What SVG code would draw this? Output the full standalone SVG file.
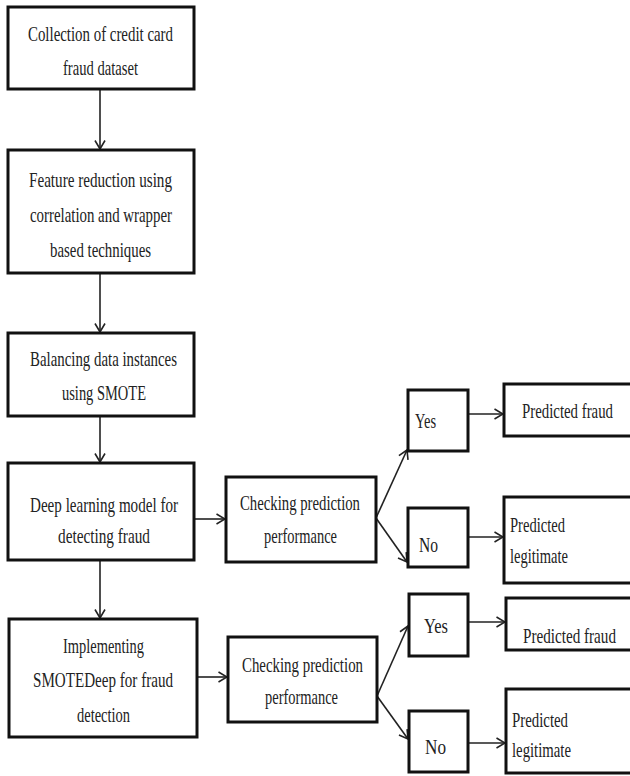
<svg xmlns="http://www.w3.org/2000/svg" width="630" height="776" viewBox="0 0 630 776">
<style>
.box{fill:#fff;stroke:#111;stroke-width:3}
.t{font-family:"Liberation Serif","Times New Roman",serif;font-size:21px;fill:#222}
.c{fill:none;stroke:#222;stroke-width:1.6}
</style>
<defs>
<marker id="ah" viewBox="0 0 10 12" refX="9.5" refY="6" markerWidth="10" markerHeight="12" markerUnits="userSpaceOnUse" orient="auto">
<polyline points="1,1 9.5,6 1,11" fill="none" stroke="#222" stroke-width="1.6"/>
</marker>
</defs>
<rect width="630" height="776" fill="#fff"/>
<g id="connectors">
<line class="c" x1="100" y1="89" x2="100" y2="149" marker-end="url(#ah)"/>
<line class="c" x1="100" y1="273" x2="100" y2="332" marker-end="url(#ah)"/>
<line class="c" x1="100" y1="416" x2="100" y2="462" marker-end="url(#ah)"/>
<line class="c" x1="100" y1="560" x2="100" y2="618" marker-end="url(#ah)"/>
<line class="c" x1="194" y1="519" x2="225" y2="519" marker-end="url(#ah)"/>
<line class="c" x1="197" y1="677" x2="227" y2="677" marker-end="url(#ah)"/>
<line class="c" x1="376" y1="518" x2="407" y2="450" marker-end="url(#ah)"/>
<line class="c" x1="376" y1="518" x2="407" y2="562" marker-end="url(#ah)"/>
<line class="c" x1="377" y1="696" x2="408" y2="626" marker-end="url(#ah)"/>
<line class="c" x1="377" y1="696" x2="408" y2="739" marker-end="url(#ah)"/>
<line class="c" x1="468" y1="414" x2="503" y2="414" marker-end="url(#ah)"/>
<line class="c" x1="468" y1="537" x2="503" y2="537" marker-end="url(#ah)"/>
<line class="c" x1="468" y1="622" x2="505" y2="622" marker-end="url(#ah)"/>
<line class="c" x1="468" y1="743" x2="505" y2="743" marker-end="url(#ah)"/>
</g>
<g id="n1"><rect class="box" x="8" y="7" width="186" height="82"/>
<text class="t" x="28" y="41" textLength="145" lengthAdjust="spacingAndGlyphs">Collection of credit card</text>
<text class="t" x="63" y="75" textLength="75" lengthAdjust="spacingAndGlyphs">fraud dataset</text></g>
<g id="n2"><rect class="box" x="8" y="150" width="186" height="123"/>
<text class="t" x="29" y="187" textLength="143" lengthAdjust="spacingAndGlyphs">Feature reduction using</text>
<text class="t" x="30" y="222" textLength="142" lengthAdjust="spacingAndGlyphs">correlation and wrapper</text>
<text class="t" x="50" y="257" textLength="101" lengthAdjust="spacingAndGlyphs">based techniques</text></g>
<g id="n3"><rect class="box" x="8" y="333" width="186" height="83"/>
<text class="t" x="30" y="366" textLength="147" lengthAdjust="spacingAndGlyphs">Balancing data instances</text>
<text class="t" x="62" y="400" textLength="84" lengthAdjust="spacingAndGlyphs">using SMOTE</text></g>
<g id="n4"><rect class="box" x="8" y="463" width="186" height="97"/>
<text class="t" x="30" y="512" textLength="148" lengthAdjust="spacingAndGlyphs">Deep learning model for</text>
<text class="t" x="58" y="543" textLength="92" lengthAdjust="spacingAndGlyphs">detecting fraud</text></g>
<g id="n5"><rect class="box" x="9" y="619" width="188" height="118"/>
<text class="t" x="63" y="653" textLength="81" lengthAdjust="spacingAndGlyphs">Implementing</text>
<text class="t" x="33" y="687" textLength="140" lengthAdjust="spacingAndGlyphs">SMOTEDeep for fraud</text>
<text class="t" x="77" y="722" textLength="53" lengthAdjust="spacingAndGlyphs">detection</text></g>
<g id="check1"><rect class="box" x="226" y="477" width="150" height="85"/>
<text class="t" x="240" y="510" textLength="120" lengthAdjust="spacingAndGlyphs">Checking prediction</text>
<text class="t" x="264" y="543" textLength="73" lengthAdjust="spacingAndGlyphs">performance</text></g>
<g id="check2"><rect class="box" x="228" y="637" width="149" height="85"/>
<text class="t" x="242" y="672" textLength="121" lengthAdjust="spacingAndGlyphs">Checking prediction</text>
<text class="t" x="265" y="704" textLength="73" lengthAdjust="spacingAndGlyphs">performance</text></g>
<g id="yes1"><rect class="box" x="408" y="390" width="60" height="61"/>
<text class="t" x="415" y="428" textLength="21" lengthAdjust="spacingAndGlyphs">Yes</text></g>
<g id="no1"><rect class="box" x="408" y="508" width="60" height="59"/>
<text class="t" x="419" y="552" textLength="19" lengthAdjust="spacingAndGlyphs">No</text></g>
<g id="pf1"><rect class="box" x="504" y="384" width="140" height="52"/>
<text class="t" x="522" y="418" textLength="91" lengthAdjust="spacingAndGlyphs">Predicted fraud</text></g>
<g id="pl1"><rect class="box" x="504" y="497" width="140" height="86"/>
<text class="t" x="510" y="532" textLength="55" lengthAdjust="spacingAndGlyphs">Predicted</text>
<text class="t" x="510" y="563" textLength="58" lengthAdjust="spacingAndGlyphs">legitimate</text></g>
<g id="yes2"><rect class="box" x="409" y="594" width="59" height="62"/>
<text class="t" x="424" y="633" textLength="24" lengthAdjust="spacingAndGlyphs">Yes</text></g>
<g id="no2"><rect class="box" x="409" y="711" width="59" height="61"/>
<text class="t" x="425" y="754" textLength="21" lengthAdjust="spacingAndGlyphs">No</text></g>
<g id="pf2"><rect class="box" x="506" y="598" width="140" height="52"/>
<text class="t" x="523" y="643" textLength="93" lengthAdjust="spacingAndGlyphs">Predicted fraud</text></g>
<g id="pl2"><rect class="box" x="506" y="689" width="140" height="84"/>
<text class="t" x="512" y="727" textLength="56" lengthAdjust="spacingAndGlyphs">Predicted</text>
<text class="t" x="512" y="757" textLength="59" lengthAdjust="spacingAndGlyphs">legitimate</text></g>
</svg>
